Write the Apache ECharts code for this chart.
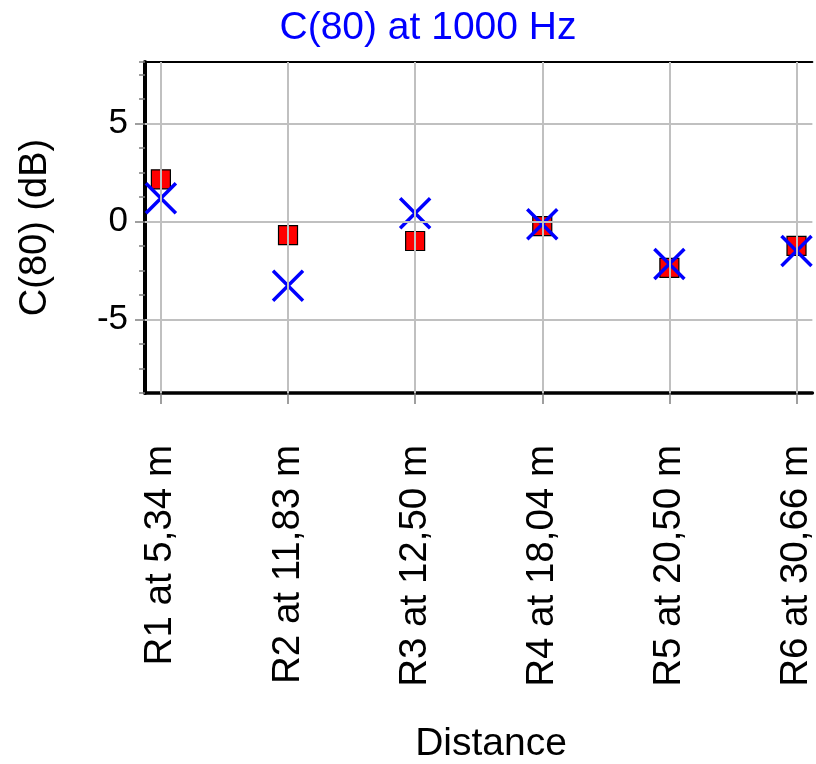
<!DOCTYPE html>
<html>
<head>
<meta charset="utf-8">
<script src="https://cdn.jsdelivr.net/npm/echarts@6/dist/echarts.min.js"></script>
<style>html,body{margin:0;padding:0;background:#fff;}#c{width:816px;height:764px;}</style>
</head>
<body>
<div id="c"></div>
<script>
var categories = ['R1 at 5,34 m', 'R2 at 11,83 m', 'R3 at 12,50 m', 'R4 at 18,04 m', 'R5 at 20,50 m', 'R6 at 30,66 m'];
var positions = [1, 2, 3, 4, 5, 6];
var squareValues = [2.16, -0.69, -0.99, -0.23, -2.36, -1.24];
var crossValues = [1.19, -3.27, 0.43, -0.13, -2.16, -1.5];
var yTickLabels = [-5, 0, 5];
var titleText = 'C(80) at 1000 Hz';
var xAxisName = 'Distance';
var yAxisName = 'C(80) (dB)';

var FONT = 'Liberation Sans, Arial, sans-serif';
var xMin = 0.875, xMax = 6.125, yMin = -8.75, yMax = 8.15;

function pairs(vals) { return positions.map(function (p, i) { return [p, vals[i]]; }); }

var gridLines = yTickLabels.map(function (v) { return { yAxis: v }; })
  .concat(positions.map(function (p) { return { xAxis: p }; }));

var chart = echarts.init(document.getElementById('c'), null, { renderer: 'canvas' });
chart.setOption({
  animation: false,
  backgroundColor: '#ffffff',
  title: [
    { text: titleText, left: 423, top: 4, textAlign: 'center',
      textStyle: { color: '#0000ff', fontFamily: FONT, fontSize: 39, fontWeight: 'normal' } },
    { text: xAxisName, left: 486, top: 720, textAlign: 'center',
      textStyle: { color: '#000', fontFamily: FONT, fontSize: 39, fontWeight: 'normal' } }
  ],
  grid: { left: 145, top: 62, right: 0, bottom: 371, containLabel: false },
  xAxis: [{
    type: 'value', min: xMin, max: xMax, position: 'bottom',
    axisLine: { show: true, onZero: false, lineStyle: { color: '#000', width: 3.5 } },
    axisTick: { show: true, customValues: positions, length: 11, lineStyle: { color: '#808080', width: 1.5 } },
    axisLabel: { show: true, customValues: positions, rotate: 90, margin: 52,
      fontFamily: FONT, fontSize: 38.5, color: '#000',
      formatter: function (v) { var i = positions.indexOf(Math.round(v)); return i >= 0 ? categories[i] : ''; } },
    splitLine: { show: false }
  }, {
    type: 'value', min: xMin, max: xMax, position: 'top',
    axisLine: { show: true, onZero: false, lineStyle: { color: '#000', width: 2 } },
    axisTick: { show: false }, axisLabel: { show: false }, splitLine: { show: false }
  }],
  yAxis: [{
    type: 'value', min: yMin, max: yMax, position: 'left',
    name: yAxisName, nameLocation: 'middle', nameRotate: 90, nameGap: 90,
    nameTextStyle: { fontFamily: FONT, fontSize: 38, color: '#000' },
    axisLine: { show: true, onZero: false, lineStyle: { color: '#000', width: 4 } },
    axisTick: { show: true, customValues: yTickLabels, length: 10, lineStyle: { color: '#808080', width: 1.5 } },
    axisLabel: { show: true, customValues: yTickLabels, margin: 17, fontFamily: FONT, fontSize: 35, color: '#000' },
    splitLine: { show: false }
  }, {
    type: 'value', min: yMin, max: yMax, interval: 1.25, position: 'left',
    axisLine: { show: false },
    axisTick: { show: true, length: 6, lineStyle: { color: '#808080', width: 1.5 } },
    axisLabel: { show: false }, splitLine: { show: false }
  }],
  series: [{
    type: 'line', data: [], silent: true, z: 1,
    markLine: {
      silent: true, symbol: ['none', 'none'], label: { show: false },
      lineStyle: { color: '#c0c0c0', width: 2, type: 'solid' },
      data: gridLines
    }
  }, {
    type: 'scatter', data: pairs(squareValues), symbol: 'rect', symbolSize: [19, 19], z: 3,
    itemStyle: { color: '#ff0000', borderColor: '#000', borderWidth: 1.2, opacity: 1 }
  }, {
    type: 'scatter', data: pairs(crossValues), symbol: 'path://M0,0L10,10M10,0L0,10', symbolSize: [30, 30], z: 4,
    itemStyle: { color: 'none', borderColor: '#0000ff', borderWidth: 3.5, opacity: 1 }
  }]
});
</script>
</body>
</html>
